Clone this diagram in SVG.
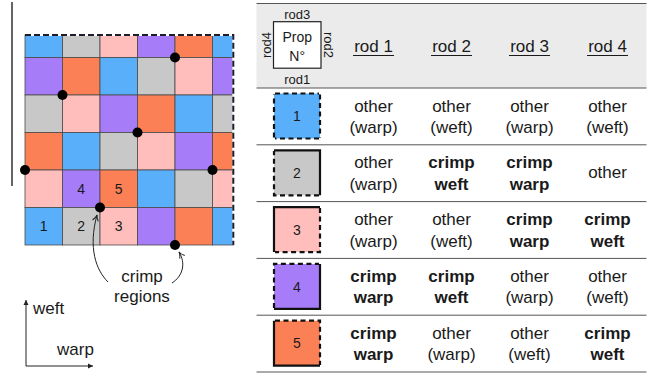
<svg xmlns="http://www.w3.org/2000/svg" width="656" height="376" viewBox="0 0 656 376">
<defs>
<style>
text{font-family:"Liberation Sans",Arial,sans-serif;fill:#1a1a1a}
.c{stroke:#4a4a4a;stroke-width:0.8}
.b{fill:#5aaffa}.g{fill:#c8c8c8}.p{fill:#ffbdbb}.v{fill:#a67cf8}.o{fill:#fb8055}
.t17{font-size:17px;text-anchor:middle}
.bd{font-weight:bold}
.s13{font-size:13px;text-anchor:middle}
.n14{font-size:14px;text-anchor:middle}
.rule{stroke:#555;stroke-width:1}
.sol{stroke:#111;stroke-width:2.2;fill:none}
.dsh{stroke:#111;stroke-width:2.2;fill:none;stroke-dasharray:5 3.5}
</style>
<marker id="chev" viewBox="-7 -4 8 8" markerWidth="8" markerHeight="8" refX="0" refY="0" orient="auto" markerUnits="userSpaceOnUse">
<path d="M-6,-3 Q-3,-0.5 0,0 Q-3,0.5 -6,3" fill="none" stroke="#222" stroke-width="1"/>
</marker>
<marker id="tri" viewBox="-6 -3 7 6" markerWidth="7" markerHeight="6" refX="0" refY="0" orient="auto" markerUnits="userSpaceOnUse">
<path d="M-5,-2.5 L0,0 L-5,2.5 Z" fill="#222"/>
</marker>
</defs>

<rect width="656" height="376" fill="#fff"/>

<line x1="12" y1="2" x2="12" y2="186" stroke="#111" stroke-width="1.3"/>

<g id="grid">
<rect class="c b" x="25" y="35" width="37.5" height="22.5"/><rect class="c g" x="62.5" y="35" width="37.5" height="22.5"/><rect class="c p" x="100" y="35" width="37.5" height="22.5"/><rect class="c v" x="137.5" y="35" width="37.5" height="22.5"/><rect class="c o" x="175" y="35" width="37.5" height="22.5"/><rect class="c b" x="212.5" y="35" width="20.8" height="22.5"/>
<rect class="c v" x="25" y="57.5" width="37.5" height="37.5"/><rect class="c o" x="62.5" y="57.5" width="37.5" height="37.5"/><rect class="c b" x="100" y="57.5" width="37.5" height="37.5"/><rect class="c g" x="137.5" y="57.5" width="37.5" height="37.5"/><rect class="c p" x="175" y="57.5" width="37.5" height="37.5"/><rect class="c v" x="212.5" y="57.5" width="20.8" height="37.5"/>
<rect class="c g" x="25" y="95" width="37.5" height="37.5"/><rect class="c p" x="62.5" y="95" width="37.5" height="37.5"/><rect class="c v" x="100" y="95" width="37.5" height="37.5"/><rect class="c o" x="137.5" y="95" width="37.5" height="37.5"/><rect class="c b" x="175" y="95" width="37.5" height="37.5"/><rect class="c g" x="212.5" y="95" width="20.8" height="37.5"/>
<rect class="c o" x="25" y="132.5" width="37.5" height="37.5"/><rect class="c b" x="62.5" y="132.5" width="37.5" height="37.5"/><rect class="c g" x="100" y="132.5" width="37.5" height="37.5"/><rect class="c p" x="137.5" y="132.5" width="37.5" height="37.5"/><rect class="c v" x="175" y="132.5" width="37.5" height="37.5"/><rect class="c o" x="212.5" y="132.5" width="20.8" height="37.5"/>
<rect class="c p" x="25" y="170" width="37.5" height="37.5"/><rect class="c v" x="62.5" y="170" width="37.5" height="37.5"/><rect class="c o" x="100" y="170" width="37.5" height="37.5"/><rect class="c b" x="137.5" y="170" width="37.5" height="37.5"/><rect class="c g" x="175" y="170" width="37.5" height="37.5"/><rect class="c p" x="212.5" y="170" width="20.8" height="37.5"/>
<rect class="c b" x="25" y="207.5" width="37.5" height="37.5"/><rect class="c g" x="62.5" y="207.5" width="37.5" height="37.5"/><rect class="c p" x="100" y="207.5" width="37.5" height="37.5"/><rect class="c v" x="137.5" y="207.5" width="37.5" height="37.5"/><rect class="c o" x="175" y="207.5" width="37.5" height="37.5"/><rect class="c b" x="212.5" y="207.5" width="20.8" height="37.5"/>
<path d="M25,35 H233.3 V245" fill="none" stroke="#fff" stroke-width="2"/>
<path d="M25,35 H233.3 V245" fill="none" stroke="#1c1c2a" stroke-width="2" stroke-dasharray="6 3"/>
<text class="n14" x="43.75" y="231">1</text>
<text class="n14" x="81.25" y="231">2</text>
<text class="n14" x="118.75" y="231">3</text>
<text class="n14" x="81.25" y="194">4</text>
<text class="n14" x="118.75" y="194">5</text>
<g fill="#000">
<circle cx="175" cy="57.5" r="5"/><circle cx="62.5" cy="95" r="5"/><circle cx="137.5" cy="132.5" r="5"/><circle cx="25" cy="170" r="5"/><circle cx="212.5" cy="170" r="5"/><circle cx="100" cy="207.5" r="5"/><circle cx="175" cy="245" r="5"/>
</g>
</g>

<g id="connectors" fill="none" stroke="#222" stroke-width="1">
<path d="M108,282 C96,270 88,248 97,215" marker-end="url(#chev)"/>
<path d="M172,283 C183,276 186,263 179,252" marker-end="url(#chev)"/>
<path d="M26,366 V300" marker-end="url(#tri)"/>
<path d="M26,366 H93" marker-end="url(#tri)"/>
</g>

<g id="crimp-label">
<text class="t17" x="142" y="282">crimp</text>
<text class="t17" x="142" y="302">regions</text>
</g>
<g id="axes-labels">
<text x="33" y="314" style="font-size:17px">weft</text>
<text x="57" y="355" style="font-size:17px">warp</text>
</g>

<g id="table">
<rect x="256.5" y="3.5" width="390" height="84.5" fill="#ebebeb"/>
<line class="rule" x1="256.5" y1="3.5" x2="646.5" y2="3.5" stroke-width="1.4"/>
<line class="rule" x1="256.5" y1="88" x2="646.5" y2="88"/>
<line class="rule" x1="256.5" y1="144.8" x2="646.5" y2="144.8"/>
<line class="rule" x1="256.5" y1="201.6" x2="646.5" y2="201.6"/>
<line class="rule" x1="256.5" y1="258.4" x2="646.5" y2="258.4"/>
<line class="rule" x1="256.5" y1="315.2" x2="646.5" y2="315.2"/>
<line class="rule" x1="256.5" y1="372" x2="646.5" y2="372" stroke-width="1.4"/>

<g id="header">
<rect x="273.5" y="21.7" width="47.5" height="46.5" fill="#fff" stroke="#222" stroke-width="1.2"/>
<text class="n14" x="297.2" y="42">Prop</text>
<text class="n14" x="297.2" y="61">N°</text>
<text class="s13" x="297.2" y="18.5">rod3</text>
<text class="s13" x="297.2" y="83.5">rod1</text>
<text class="s13" transform="translate(270.5,45) rotate(-90)">rod4</text>
<text class="s13" transform="translate(323.5,45) rotate(90)">rod2</text>
<text class="t17" x="373.5" y="52">rod 1</text>
<text class="t17" x="451.5" y="52">rod 2</text>
<text class="t17" x="529.5" y="52">rod 3</text>
<text class="t17" x="607.5" y="52">rod 4</text>
<g stroke="#1a1a1a" stroke-width="1.1">
<line x1="353" y1="55.5" x2="394" y2="55.5"/><line x1="431" y1="55.5" x2="472" y2="55.5"/><line x1="509" y1="55.5" x2="550" y2="55.5"/><line x1="587" y1="55.5" x2="628" y2="55.5"/>
</g>
</g>

<g id="prop1">
<rect class="b" x="274" y="93.5" width="46" height="45" rx="2"/>
<path class="dsh" d="M275,93.5 H319 M320,94.5 V137.5 M319,138.5 H275 M274,137.5 V94.5"/>
<text class="n14" x="297" y="121">1</text>
<text class="t17" x="373.5" y="111.5">other</text><text class="t17" x="373.5" y="133">(warp)</text>
<text class="t17" x="451.5" y="111.5">other</text><text class="t17" x="451.5" y="133">(weft)</text>
<text class="t17" x="529.5" y="111.5">other</text><text class="t17" x="529.5" y="133">(warp)</text>
<text class="t17" x="607.5" y="111.5">other</text><text class="t17" x="607.5" y="133">(weft)</text>
</g>

<g id="prop2">
<rect class="g" x="274" y="150.3" width="46" height="45" rx="2"/>
<path class="sol" d="M274,150.3 H320 V195.3"/>
<path class="dsh" d="M319,195.3 H274 V151"/>
<text class="n14" x="297" y="178">2</text>
<text class="t17" x="373.5" y="168.3">other</text><text class="t17" x="373.5" y="189.8">(warp)</text>
<text class="t17 bd" x="451.5" y="168.3">crimp</text><text class="t17 bd" x="451.5" y="189.8">weft</text>
<text class="t17 bd" x="529.5" y="168.3">crimp</text><text class="t17 bd" x="529.5" y="189.8">warp</text>
<text class="t17" x="607.5" y="178.3">other</text>
</g>

<g id="prop3">
<rect class="p" x="274" y="207.1" width="46" height="45" rx="2"/>
<path class="sol" d="M274,252.1 V207.1 H320"/>
<path class="dsh" d="M320,208 V252.1 H275"/>
<text class="n14" x="297" y="234.8">3</text>
<text class="t17" x="373.5" y="225.1">other</text><text class="t17" x="373.5" y="246.6">(warp)</text>
<text class="t17" x="451.5" y="225.1">other</text><text class="t17" x="451.5" y="246.6">(weft)</text>
<text class="t17 bd" x="529.5" y="225.1">crimp</text><text class="t17 bd" x="529.5" y="246.6">warp</text>
<text class="t17 bd" x="607.5" y="225.1">crimp</text><text class="t17 bd" x="607.5" y="246.6">weft</text>
</g>

<g id="prop4">
<rect class="v" x="274" y="263.9" width="46" height="45" rx="2"/>
<path class="sol" d="M320,263.9 V308.9 H274"/>
<path class="dsh" d="M274,308 V263.9 H319"/>
<text class="n14" x="297" y="291.6">4</text>
<text class="t17 bd" x="373.5" y="281.9">crimp</text><text class="t17 bd" x="373.5" y="303.4">warp</text>
<text class="t17 bd" x="451.5" y="281.9">crimp</text><text class="t17 bd" x="451.5" y="303.4">weft</text>
<text class="t17" x="529.5" y="281.9">other</text><text class="t17" x="529.5" y="303.4">(warp)</text>
<text class="t17" x="607.5" y="281.9">other</text><text class="t17" x="607.5" y="303.4">(weft)</text>
</g>

<g id="prop5">
<rect class="o" x="274" y="320.7" width="46" height="45" rx="2"/>
<path class="sol" d="M274,320.7 V365.7 H320"/>
<path class="dsh" d="M275,320.7 H320 V365"/>
<text class="n14" x="297" y="348.4">5</text>
<text class="t17 bd" x="373.5" y="338.7">crimp</text><text class="t17 bd" x="373.5" y="360.2">warp</text>
<text class="t17" x="451.5" y="338.7">other</text><text class="t17" x="451.5" y="360.2">(warp)</text>
<text class="t17" x="529.5" y="338.7">other</text><text class="t17" x="529.5" y="360.2">(weft)</text>
<text class="t17 bd" x="607.5" y="338.7">crimp</text><text class="t17 bd" x="607.5" y="360.2">weft</text>
</g>
</g>
</svg>
